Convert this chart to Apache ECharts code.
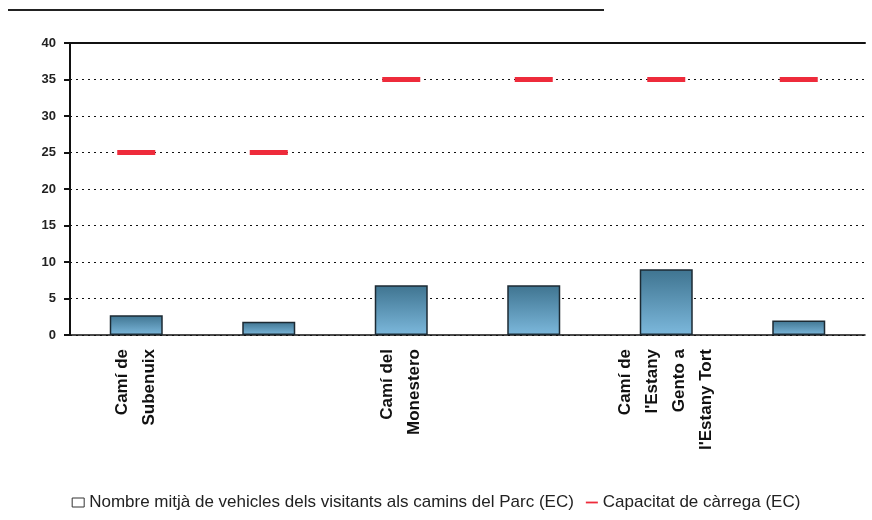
<!DOCTYPE html>
<html>
<head>
<meta charset="utf-8">
<script src="https://cdn.jsdelivr.net/npm/echarts@6/dist/echarts.min.js"></script>
<style>html,body{margin:0;padding:0;background:#fff}#c{width:872px;height:520px}</style>
</head>
<body>
<div id="c"></div>
<script>
const categories = ["Camí de\nSubenuix", "Camí de\nl'Estany Llong", "Camí del\nMonestero", "Camí de\nl'Estany de Sant Maurici", "Camí de\nl'Estany\nGento a\nl'Estany Tort", "Camí de\nl'Estany Negre"];
const vehicles = [2.7, 1.8, 6.8, 6.8, 9.0, 2.0];
const capacity = [25, 25, 35, 35, 35, 35];
const yTicks = [0, 5, 10, 15, 20, 25, 30, 35, 40];
const seriesNames = ["Nombre mitjà de vehicles dels visitants als camins del Parc (EC)", "Capacitat de càrrega (EC)"];

const chart = echarts.init(document.getElementById('c'));
chart.setOption({
  animation: false,
  backgroundColor: '#ffffff',
  grid: { left: 70, right: 7, top: 43, bottom: 185, containLabel: false },
  graphic: [{ type: 'line', shape: { x1: 8, y1: 10, x2: 604, y2: 10 }, style: { stroke: '#222', lineWidth: 2 } }],
  legend: {
    bottom: 4, left: 'center', itemWidth: 12, itemHeight: 9, itemGap: 12,
    textStyle: { fontFamily: 'Liberation Sans', fontSize: 17, color: '#222' },
    data: [
      { name: seriesNames[0], icon: 'rect', itemStyle: { color: '#fff', borderColor: '#333', borderWidth: 1 } },
      { name: seriesNames[1], icon: 'path://M0,4 L20,4 L20,7 L0,7 Z', itemStyle: { color: '#ee2b3b' } }
    ]
  },
  xAxis: [{
    type: 'category', data: categories,
    axisLine: { lineStyle: { color: '#111', width: 1.5 } },
    axisTick: { show: false },
    axisLabel: { interval: 1, rotate: 90, margin: 14, fontFamily: 'Liberation Sans', fontSize: 17, fontWeight: 'bold', color: '#111', lineHeight: 27 }
  }, {
    type: 'category', data: categories, position: 'top',
    axisLine: { show: true, lineStyle: { color: '#111', width: 2 } },
    axisTick: { show: false }, axisLabel: { show: false }
  }],
  yAxis: {
    type: 'value', min: 0, max: 40, interval: 5,
    axisLine: { show: true, lineStyle: { color: '#111', width: 2 } },
    axisTick: { show: true, length: 6, inside: false, lineStyle: { color: '#111', width: 2 } },
    axisLabel: { fontFamily: 'Liberation Sans', fontSize: 13, fontWeight: 'bold', color: '#222', margin: 14 },
    splitLine: { show: true, lineStyle: { color: '#111', type: [2, 4], width: 1 } }
  },
  series: [
    {
      name: seriesNames[0], type: 'bar', data: vehicles, barWidth: '40%',
      itemStyle: {
        color: new echarts.graphic.LinearGradient(0, 0, 0, 1, [
          { offset: 0, color: '#3f7490' }, { offset: 1, color: '#7cb8dc' }
        ]),
        borderColor: '#1c2a33', borderWidth: 1.5
      }
    },
    {
      name: seriesNames[1], type: 'line', data: capacity,
      lineStyle: { opacity: 0 }, symbol: 'rect', symbolSize: [38, 5],
      itemStyle: { color: '#ee2b3b' }, z: 5
    }
  ]
});
</script>
</body>
</html>
